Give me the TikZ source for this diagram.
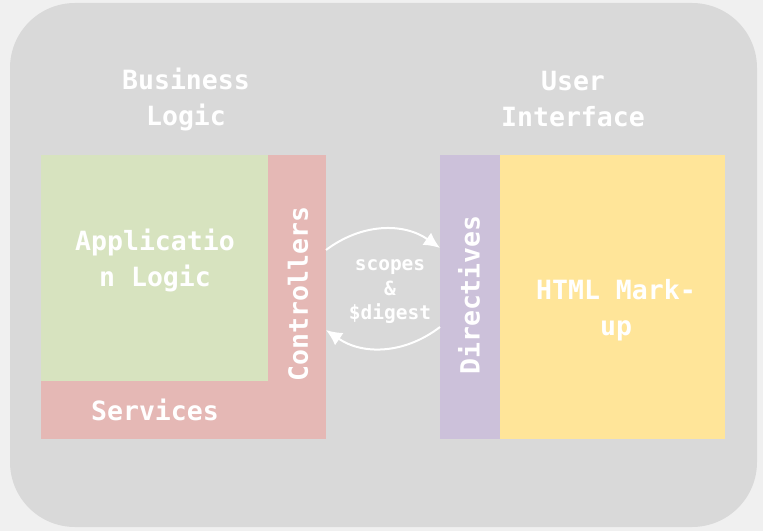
\documentclass[tikz,border=0pt]{standalone}
\usepackage{fontspec}
\setmonofont{DejaVu Sans Mono}
\usetikzlibrary{arrows.meta}

\definecolor{pagegray}{HTML}{F0F0F0}
\definecolor{panelgray}{HTML}{D9D9D9}
\definecolor{appgreen}{HTML}{D7E3BF}
\definecolor{ctrlpink}{HTML}{E5B8B5}
\definecolor{dirpurple}{HTML}{CCC1DA}
\definecolor{htmlyellow}{HTML}{FFE599}

\begin{document}
\begin{tikzpicture}[x=1pt,y=1pt,
    big text/.style={text=white,font=\ttfamily\bfseries\fontsize{26.5}{36}\selectfont,align=center},
    small text/.style={text=white,font=\ttfamily\bfseries\fontsize{19.5}{24.5}\selectfont,align=center},
    block/.style={inner sep=0pt,outer sep=0pt,anchor=south west},
    flow/.style={white,line width=2pt,-{Latex[length=16pt,width=15pt]},bend left=36}]
        \useasboundingbox[fill=pagegray] (0,0) rectangle (763,531);
        \fill[panelgray,rounded corners=65pt] (10,4) rectangle (757,528);

        % business logic side
        \node[block,fill=ctrlpink,minimum width=285pt,minimum height=58pt] (services) at (41,92) {};
        \node[block,fill=appgreen,minimum width=227pt,minimum height=226pt] (app) at (41,150) {};
        \node[block,fill=ctrlpink,minimum width=58pt,minimum height=284pt] (ctrl) at (268,92) {};

        % user interface side
        \node[block,fill=dirpurple,minimum width=60pt,minimum height=284pt] (dir) at (440,92) {};
        \node[block,fill=htmlyellow,minimum width=225pt,minimum height=284pt] (html) at (500,92) {};

        % labels
        \node[big text] (bl) at (186,432) {Business\\Logic};
        \node[big text] (ui) at (573,432) {User\\Interface};
        \node[big text] (apptext) at (155,271) {Applicatio\\n Logic};
        \node[big text] (servtext) at (155,121) {Services};
        \node[big text,rotate=90] (ctrltext) at (298,237) {Controllers};
        \node[big text,rotate=90] (dirtext) at (469,236) {Directives};
        \node[big text] (htmltext) at (616,221) {HTML Mark-\\up};
        \node[small text] (scopes) at (390,239) {scopes\\\&\\\$digest};

        \draw[flow] ([yshift=47pt]ctrl.east) to ([yshift=49pt]dir.west);
        \draw[flow] ([yshift=-30pt]dir.west) to ([yshift=-33pt]ctrl.east);
\end{tikzpicture}
\end{document}
